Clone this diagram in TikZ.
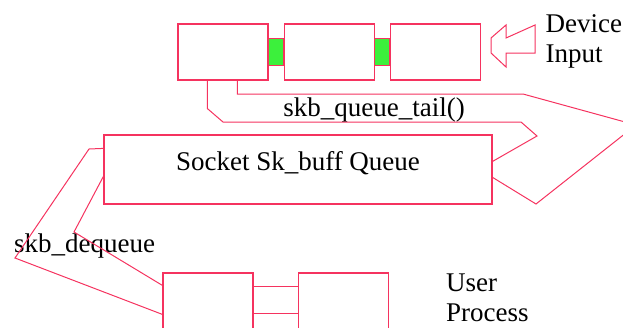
\documentclass[tikz,border=0pt]{standalone}
\usepackage{fontspec}
\setmainfont{Liberation Serif}
\usetikzlibrary{positioning,calc}
\definecolor{skLine}{HTML}{F5335F}
\definecolor{skGreen}{HTML}{3CF03C}
\tikzset{
  skbox/.style={
    draw=skLine, line width=1.2pt, minimum width=90pt, minimum height=56pt, inner sep=0pt
  },
  sklink/.style={draw=skLine, fill=skGreen, line width=1.2pt, minimum width=15pt, minimum height=27pt, inner sep=0pt},
  skpath/.style={draw=skLine, line width=1pt},
  sklabel/.style={font=\fontsize{27}{30}\selectfont, inner sep=0pt, align=left}
}

\begin{document}
\begin{tikzpicture}[x=1pt, y=-1pt, node distance=15pt]
  \useasboundingbox (0,0) rectangle (623,327);
  \clip (0,0) rectangle (623,327);
  % device queue
  \node[skbox] (q1) at (223,52) {};
  \node[skbox, right=of q1] (q2) {};
  \node[skbox, right=of q2] (q3) {};
  \node[sklink] (g1) at ($(q1.east)!0.5!(q2.west)$) {};
  \node[sklink] (g2) at ($(q2.east)!0.5!(q3.west)$) {};
  % device input arrow
  \draw[skpath] (535,25) -- (506,38) -- (506,25) -- (491,38) -- (491,53)
    -- (506,67) -- (506,53) -- (535,53) -- cycle;
  \node[sklabel, anchor=north west] (dev) at (545.5,14) {Device\\Input};
  % socket queue
  \node[skbox, minimum width=388pt, minimum height=69pt, font=\fontsize{27}{30}\selectfont,
    text height=18pt, text depth=16pt] (sockq) at (298,169.5) {Socket Sk\_buff Queue};
  \node[sklabel, anchor=base] (tail) at (374,116) {skb\_queue\_tail()};
  % user process
  \node[skbox] (u1) at (208,301) {};
  \node[skbox, right=44pt of u1] (u2) {};
  \node[sklabel, anchor=north west] (user) at (446,274) {User\\Process};
  \draw[skpath] ([yshift=-14pt]u1.north east) -- ([yshift=-14pt]u2.north west);
  \draw[skpath] ([yshift=-41pt]u1.north east) -- ([yshift=-41pt]u2.north west);
  \node[sklabel, anchor=base west] (deq) at (14,252) {skb\_dequeue};
  % enqueue
  \draw[skpath] ([xshift=60pt]q1.south west) |- (523,94) -- (636,125) -- (536,204)
    -- ([yshift=-43pt]sockq.north east);
  \draw[skpath] ([xshift=30pt]q1.south west) -- ++(0,28) -- (223,122) -- (521,122)
    -- (537,136) -- ([yshift=-27pt]sockq.north east);
  % dequeue
  \draw[skpath] ([yshift=-14pt]sockq.north west) -- (89,149) -- (15,258)
    -- ([yshift=-42pt]u1.north west);
  \draw[skpath] ([yshift=-42pt]sockq.north west) -- (74,232)
    -- ([yshift=-13pt]u1.north west);
\end{tikzpicture}
\end{document}
